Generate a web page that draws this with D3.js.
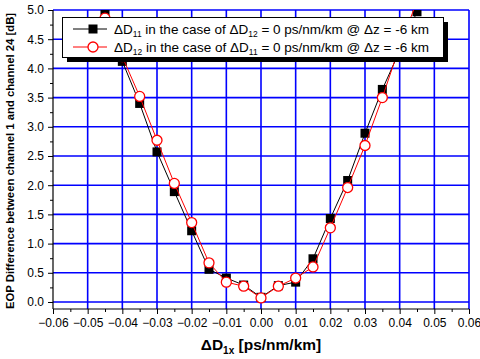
<!DOCTYPE html>
<html>
<head>
<meta charset="utf-8">
<script src="https://cdn.jsdelivr.net/npm/d3@7"></script>
<style>
  body { margin: 0; background: #fff; }
  svg { font-family: Arial, "Liberation Sans", sans-serif; }
</style>
</head>
<body>
<div id="chart"></div>
<script>
const dispersion = [-0.045, -0.04, -0.035, -0.03, -0.025, -0.02, -0.015, -0.01, -0.005,
    0, 0.005, 0.01, 0.015, 0.02, 0.025, 0.03, 0.035, 0.04, 0.045];
const eopD11 = [4.95, 4.12, 3.40, 2.57, 1.89, 1.22, 0.56, 0.41, 0.29,
    0.08, 0.28, 0.34, 0.74, 1.43, 2.08, 2.89, 3.64, 4.30, 4.97];
const eopD12 = [4.86, 4.20, 3.52, 2.77, 2.03, 1.36, 0.67, 0.34, 0.27,
    0.07, 0.27, 0.41, 0.60, 1.27, 1.96, 2.68, 3.50, 4.38, 5.15];
const xTicks = [-0.06, -0.05, -0.04, -0.03, -0.02, -0.01, 0, 0.01, 0.02, 0.03, 0.04, 0.05, 0.06];
const yTicks = [0, 0.5, 1, 1.5, 2, 2.5, 3, 3.5, 4, 4.5, 5];

const width = 480;
const height = 359;
const plot = { left: 53, right: 469, top: 10, bottom: 309 };
const font = 'Arial, "Liberation Sans", sans-serif';

const svg = d3.select('#chart')
  .append('svg')
    .attr('width', width)
    .attr('height', height);

const x = d3.scaleLinear().domain([-0.06, 0.06]).range([plot.left, plot.right]);
const y = d3.scaleLinear().domain([-0.12, 5.0]).range([plot.bottom, plot.top]);

// grid
const grid = svg.append('g').attr('stroke', '#0000ff').attr('stroke-width', 1.6);
grid.selectAll('.vg').data(xTicks.slice(1))
  .enter().append('line')
    .attr('x1', d => x(d)).attr('x2', d => x(d))
    .attr('y1', plot.top).attr('y2', plot.bottom);
grid.selectAll('.hg').data(yTicks)
  .enter().append('line')
    .attr('x1', plot.left).attr('x2', plot.right)
    .attr('y1', d => y(d)).attr('y2', d => y(d));

// axes
const xAxis = svg.append('g')
    .attr('transform', `translate(0,${plot.bottom})`)
    .call(d3.axisBottom(x).tickValues(xTicks).tickSize(5).tickPadding(4)
      .tickFormat(d3.format('.2f')));
const xMinor = svg.append('g')
    .attr('transform', `translate(0,${plot.bottom})`)
    .call(d3.axisBottom(x).tickValues(d3.range(-0.055, 0.06, 0.01)).tickSize(3).tickFormat(''));

const yAxis = svg.append('g')
    .attr('transform', `translate(${plot.left},0)`)
    .call(d3.axisLeft(y).tickValues(yTicks).tickSize(5).tickPadding(4)
      .tickFormat(d3.format('.1f')));
const yMinor = svg.append('g')
    .attr('transform', `translate(${plot.left},0)`)
    .call(d3.axisLeft(y).tickValues(d3.range(0.25, 5, 0.5)).tickSize(3).tickFormat(''));

[xAxis, yAxis, xMinor, yMinor].forEach(g => {
  g.select('.domain').attr('stroke', '#000').attr('stroke-width', 1.2);
  g.selectAll('.tick line').attr('stroke', '#000').attr('stroke-width', 1);
  g.selectAll('.tick text').attr('font-size', 12).attr('fill', '#000')
    .attr('font-family', font);
});
xAxis.select('.domain').attr('d', `M${plot.left},0H${plot.right}`);
xMinor.select('.domain').remove();
yMinor.select('.domain').remove();
yAxis.select('.domain').attr('d', `M0,${plot.top}V${plot.bottom}`);

// series
svg.append('defs').append('clipPath').attr('id', 'clip')
  .append('rect')
    .attr('x', plot.left).attr('y', plot.top)
    .attr('width', plot.right - plot.left).attr('height', plot.bottom - plot.top);

const line = d3.line().x(d => x(d[0])).y(d => y(d[1]));
const black = dispersion.map((d, i) => [d, eopD11[i]]);
const red = dispersion.map((d, i) => [d, eopD12[i]]);

const series = svg.append('g').attr('clip-path', 'url(#clip)');
series.append('path').datum(black)
    .attr('d', line).attr('fill', 'none').attr('stroke', '#000').attr('stroke-width', 1);
series.selectAll('.sq').data(black)
  .enter().append('rect')
    .attr('x', d => x(d[0]) - 4.5).attr('y', d => y(d[1]) - 4.5)
    .attr('width', 9).attr('height', 9).attr('fill', '#000');
series.append('path').datum(red)
    .attr('d', line).attr('fill', 'none').attr('stroke', '#ff0000').attr('stroke-width', 1);
series.selectAll('.ci').data(red)
  .enter().append('circle')
    .attr('cx', d => x(d[0])).attr('cy', d => y(d[1])).attr('r', 5)
    .attr('fill', '#fff').attr('stroke', '#ff0000').attr('stroke-width', 1.3);

// legend
const legend = svg.append('g').attr('font-family', font);
legend.append('rect').attr('x', 67).attr('y', 22).attr('width', 381).attr('height', 40).attr('fill', '#000');
legend.append('rect').attr('x', 62.5).attr('y', 17.5).attr('width', 381).attr('height', 40)
    .attr('fill', '#fff').attr('stroke', '#000').attr('stroke-width', 1);

const entries = [
  { color: '#000', marker: 'square', a: '11', b: '12', yy: 29 },
  { color: '#ff0000', marker: 'circle', a: '12', b: '11', yy: 47 }
];
entries.forEach(e => {
  legend.append('line').attr('x1', 73).attr('x2', 107).attr('y1', e.yy).attr('y2', e.yy)
    .attr('stroke', e.color).attr('stroke-width', 1);
  if (e.marker === 'square') {
    legend.append('rect').attr('x', 88.5).attr('y', e.yy - 4.5).attr('width', 9).attr('height', 9).attr('fill', '#000');
  } else {
    legend.append('circle').attr('cx', 93).attr('cy', e.yy).attr('r', 5)
      .attr('fill', '#fff').attr('stroke', '#ff0000').attr('stroke-width', 1.3);
  }
  const t = legend.append('text').attr('x', 114).attr('y', e.yy + 5).attr('font-size', 13.5);
  t.append('tspan').text('\u0394D');
  t.append('tspan').attr('font-size', 8.5).attr('dy', 3).text(e.a);
  t.append('tspan').attr('dy', -3).text(' in the case of \u0394D');
  t.append('tspan').attr('font-size', 8.5).attr('dy', 3).text(e.b);
  t.append('tspan').attr('dy', -3).text(' = 0 ps/nm/km @ \u0394z = -6 km');
});

// axis titles
const xt = svg.append('text').attr('x', 261).attr('y', 350).attr('text-anchor', 'middle')
    .attr('font-family', font).attr('font-size', 15.5).attr('font-weight', 'bold');
xt.append('tspan').text('\u0394D');
xt.append('tspan').attr('font-size', 10).attr('dy', 4).text('1x');
xt.append('tspan').attr('dy', -4).text(' [ps/nm/km]');

svg.append('text')
    .attr('transform', `translate(14,161) rotate(-90)`)
    .attr('text-anchor', 'middle').attr('font-family', font)
    .attr('font-size', 11.3).attr('font-weight', 'bold')
    .text('EOP Difference between channel 1 and channel 24 [dB]');
</script>
</body>
</html>
